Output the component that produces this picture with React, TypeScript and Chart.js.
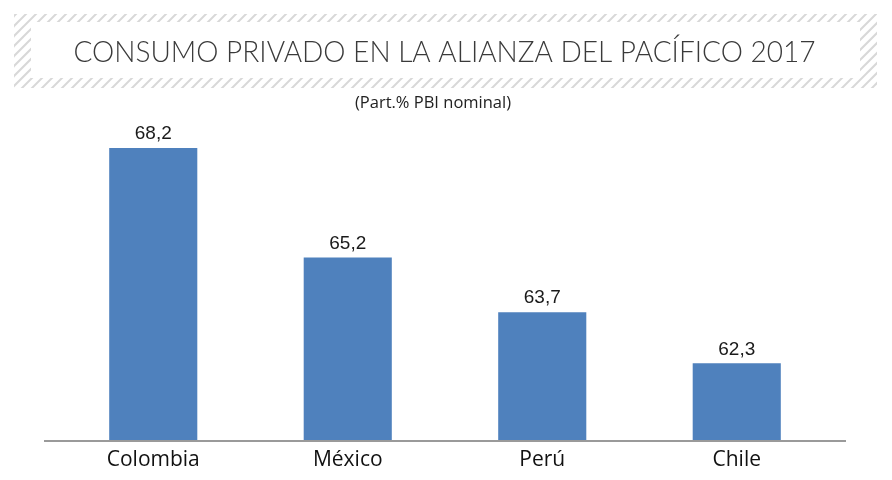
import React, { useEffect, useRef } from "react";
import { Chart, registerables } from "chart.js";

Chart.register(...registerables);

const categories = ["Colombia", "México", "Perú", "Chile"];
const values = [68.2, 65.2, 63.7, 62.3];
const valueLabels = ["68,2", "65,2", "63,7", "62,3"];
const titleText = "CONSUMO PRIVADO EN LA ALIANZA DEL PACÍFICO 2017";
const subtitleText = "(Part.% PBI nominal)";

const framePlugin = {
  id: "frame",
  beforeDraw(chart: any) {
    const ctx = chart.ctx as CanvasRenderingContext2D;
    ctx.save();
    ctx.fillStyle = "#ffffff";
    ctx.fillRect(0, 0, chart.width, chart.height);
    // hatched frame
    const ox0 = 14, oy0 = 14, ox1 = 877, oy1 = 88;
    const ix0 = 31, iy0 = 22, ix1 = 860, iy1 = 78;
    ctx.beginPath();
    ctx.rect(ox0, oy0, ox1 - ox0, oy1 - oy0);
    ctx.rect(ix0, iy0, ix1 - ix0, iy1 - iy0);
    ctx.clip("evenodd");
    ctx.strokeStyle = "#d8d8d8";
    ctx.lineWidth = 2;
    for (let x = -120; x < 1000; x += 10) {
      ctx.beginPath();
      ctx.moveTo(x, oy1 + 2);
      ctx.lineTo(x + (oy1 - oy0) + 4, oy0 - 2);
      ctx.stroke();
    }
    ctx.restore();

    ctx.save();
    ctx.fillStyle = "#3a3a3a";
    ctx.textAlign = "center";
    ctx.textBaseline = "middle";
    ctx.font = "300 30px Lato";
    ctx.fillText(titleText, 444.5, 52, 742);
    ctx.fillStyle = "#222222";
    ctx.font = "16.5px 'Open Sans'";
    ctx.fillText(subtitleText, 433, 103);
    ctx.restore();
  },
  afterDatasetsDraw(chart: any) {
    const ctx = chart.ctx as CanvasRenderingContext2D;
    const area = chart.chartArea;
    ctx.save();
    ctx.strokeStyle = "#9a9a9a";
    ctx.lineWidth = 2;
    ctx.beginPath();
    ctx.moveTo(44, area.bottom + 1);
    ctx.lineTo(846, area.bottom + 1);
    ctx.stroke();
    const meta = chart.getDatasetMeta(0);
    ctx.fillStyle = "#1a1a1a";
    ctx.font = "19px 'Liberation Sans'";
    ctx.textAlign = "center";
    ctx.textBaseline = "middle";
    meta.data.forEach((bar: any, i: number) => {
      ctx.fillText(valueLabels[i], bar.x, bar.y - 14);
    });
    ctx.restore();
  },
};

export default function App() {
  const ref = useRef<HTMLCanvasElement>(null);
  useEffect(() => {
    if (!ref.current) return;
    const chart = new Chart(ref.current, {
      type: "bar",
      data: {
        labels: categories,
        datasets: [
          {
            data: values,
            backgroundColor: "#4F81BD",
            barPercentage: 1,
            categoryPercentage: 0.453,
          },
        ],
      },
      options: {
        responsive: false,
        animation: false,
        layout: { padding: { left: 56, right: 58, top: 84, bottom: 0 } },
        plugins: {
          legend: { display: false },
          tooltip: { enabled: false },
          title: { display: false },
        },
        scales: {
          x: {
            grid: { display: false, drawTicks: false },
            border: { display: false },
            ticks: {
              color: "#111111",
              font: { family: "'Open Sans'", size: 21 },
              padding: 7,
            },
            afterFit(scale: any) {
              scale.height = 40;
            },
          },
          y: {
            display: false,
            min: 60.2,
            max: 69.95,
          },
        },
      },
      plugins: [framePlugin],
    });
    return () => chart.destroy();
  }, []);
  return (
    <div style={{ position: "absolute", left: 0, top: 0, width: 892, height: 480 }}>
      <canvas ref={ref} width={892} height={480} />
    </div>
  );
}
